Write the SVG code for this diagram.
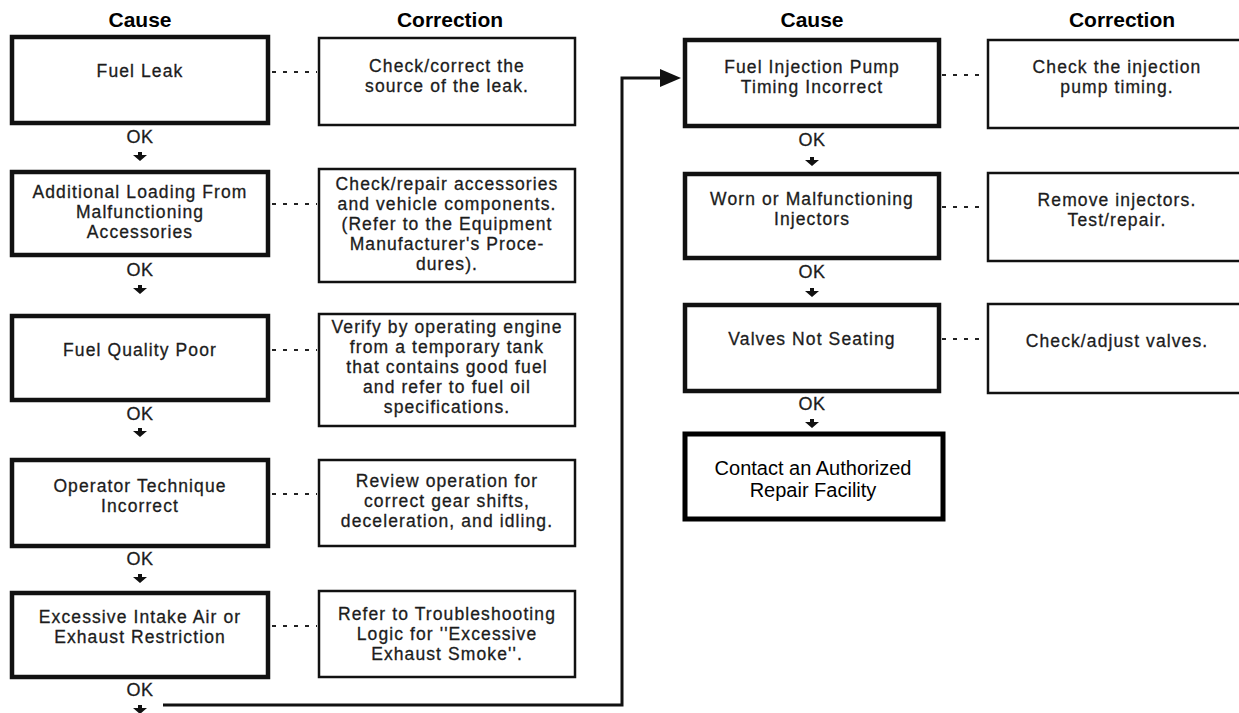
<svg xmlns="http://www.w3.org/2000/svg" width="1239" height="713" viewBox="0 0 1239 713">
<defs>
<style>
.bg{fill:#ffffff}
.cause rect{fill:#fff;stroke:#111;stroke-width:4.5}
.corr rect{fill:#fff;stroke:#111;stroke-width:2.5}
.final rect{fill:#fff;stroke:#000;stroke-width:5}
text{font-family:"Liberation Sans",Arial,Helvetica,sans-serif;fill:#1c1c1c;stroke:#1c1c1c;stroke-width:0.3px;text-anchor:middle;font-size:17.5px;letter-spacing:1.1px}
.hdr{font-weight:bold;font-size:21px;fill:#000;stroke:none;letter-spacing:0}
.ok{font-size:18px;letter-spacing:0.5px}
.final text{fill:#000;stroke:none;font-size:20px;letter-spacing:0}
.dot{stroke:#222;stroke-width:2;stroke-dasharray:4 7;fill:none}
.flow{stroke:#111;stroke-width:3;fill:none}
.tip{fill:#111}
</style>
<path id="dn" d="M-2,-5 L2,-5 L2,-2 L7,-2 L0,4 L-7,-2 L-2,-2 Z"/>
</defs>
<rect class="bg" x="0" y="0" width="1239" height="713"/>

<g id="headers">
<text class="hdr" x="140" y="27">Cause</text>
<text class="hdr" x="450" y="27">Correction</text>
<text class="hdr" x="812" y="27">Cause</text>
<text class="hdr" x="1122" y="27">Correction</text>
</g>

<g id="connectors">
<line class="dot" x1="272" y1="72" x2="317" y2="72"/>
<line class="dot" x1="272" y1="204" x2="317" y2="204"/>
<line class="dot" x1="272" y1="350" x2="317" y2="350"/>
<line class="dot" x1="272" y1="494" x2="317" y2="494"/>
<line class="dot" x1="272" y1="626" x2="317" y2="626"/>
<line class="dot" x1="942" y1="75" x2="986" y2="75"/>
<line class="dot" x1="942" y1="207" x2="986" y2="207"/>
<line class="dot" x1="942" y1="339" x2="986" y2="339"/>
<polyline class="flow" points="163,705 622,705 622,78 664,78"/>
<path class="tip" d="M660,69 L681,78 L660,87 Z"/>
<g class="tip">
<use href="#dn" x="140" y="157"/>
<use href="#dn" x="140" y="290"/>
<use href="#dn" x="140" y="433"/>
<use href="#dn" x="140" y="579"/>
<use href="#dn" x="140" y="710"/>
<use href="#dn" x="812" y="162"/>
<use href="#dn" x="812" y="293"/>
<use href="#dn" x="812" y="424"/>
</g>
<g id="ok-labels">
<text class="ok" x="140" y="143">OK</text>
<text class="ok" x="140" y="276">OK</text>
<text class="ok" x="140" y="420">OK</text>
<text class="ok" x="140" y="565">OK</text>
<text class="ok" x="140" y="696">OK</text>
<text class="ok" x="812" y="146">OK</text>
<text class="ok" x="812" y="278">OK</text>
<text class="ok" x="812" y="410">OK</text>
</g>
</g>

<g id="cause1" class="cause">
<rect x="12" y="37" width="256" height="86"/>
<text x="140" y="77">Fuel Leak</text>
</g>
<g id="corr1" class="corr">
<rect x="319" y="38" width="256" height="87"/>
<text x="447" y="72">Check/correct the</text>
<text x="447" y="92">source of the leak.</text>
</g>

<g id="cause2" class="cause">
<rect x="12" y="172" width="256" height="83"/>
<text x="140" y="198">Additional Loading From</text>
<text x="140" y="218">Malfunctioning</text>
<text x="140" y="238">Accessories</text>
</g>
<g id="corr2" class="corr">
<rect x="319" y="169" width="256" height="113"/>
<text x="447" y="190">Check/repair accessories</text>
<text x="447" y="210">and vehicle components.</text>
<text x="447" y="230">(Refer to the Equipment</text>
<text x="447" y="250">Manufacturer's Proce-</text>
<text x="447" y="270">dures).</text>
</g>

<g id="cause3" class="cause">
<rect x="12" y="316" width="256" height="84"/>
<text x="140" y="356">Fuel Quality Poor</text>
</g>
<g id="corr3" class="corr">
<rect x="319" y="314" width="256" height="112"/>
<text x="447" y="333">Verify by operating engine</text>
<text x="447" y="353">from a temporary tank</text>
<text x="447" y="373">that contains good fuel</text>
<text x="447" y="393">and refer to fuel oil</text>
<text x="447" y="413">specifications.</text>
</g>

<g id="cause4" class="cause">
<rect x="12" y="460" width="256" height="86"/>
<text x="140" y="492">Operator Technique</text>
<text x="140" y="512">Incorrect</text>
</g>
<g id="corr4" class="corr">
<rect x="319" y="460" width="256" height="86"/>
<text x="447" y="487">Review operation for</text>
<text x="447" y="507">correct gear shifts,</text>
<text x="447" y="527">deceleration, and idling.</text>
</g>

<g id="cause5" class="cause">
<rect x="12" y="593" width="256" height="84"/>
<text x="140" y="623">Excessive Intake Air or</text>
<text x="140" y="643">Exhaust Restriction</text>
</g>
<g id="corr5" class="corr">
<rect x="319" y="591" width="256" height="86"/>
<text x="447" y="620">Refer to Troubleshooting</text>
<text x="447" y="640">Logic for ''Excessive</text>
<text x="447" y="660">Exhaust Smoke''.</text>
</g>

<g id="cause6" class="cause">
<rect x="685" y="40" width="254" height="86"/>
<text x="812" y="73">Fuel Injection Pump</text>
<text x="812" y="93">Timing Incorrect</text>
</g>
<g id="corr6" class="corr">
<rect x="988" y="40" width="300" height="88"/>
<text x="1117" y="73">Check the injection</text>
<text x="1117" y="93">pump timing.</text>
</g>

<g id="cause7" class="cause">
<rect x="685" y="174" width="254" height="84"/>
<text x="812" y="205">Worn or Malfunctioning</text>
<text x="812" y="225">Injectors</text>
</g>
<g id="corr7" class="corr">
<rect x="988" y="173" width="300" height="88"/>
<text x="1117" y="206">Remove injectors.</text>
<text x="1117" y="226">Test/repair.</text>
</g>

<g id="cause8" class="cause">
<rect x="685" y="305" width="254" height="86"/>
<text x="812" y="345">Valves Not Seating</text>
</g>
<g id="corr8" class="corr">
<rect x="988" y="304" width="300" height="89"/>
<text x="1117" y="347">Check/adjust valves.</text>
</g>

<g id="final" class="final">
<rect x="685" y="434" width="258" height="85"/>
<text x="813" y="475">Contact an Authorized</text>
<text x="813" y="497">Repair Facility</text>
</g>
</svg>
